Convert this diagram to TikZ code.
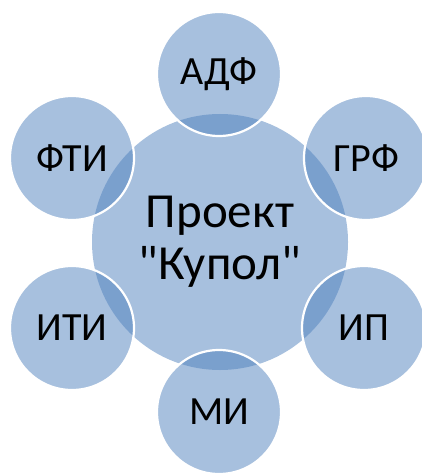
\documentclass[tikz,border=0pt]{standalone}
\usepackage{fontspec}
\newfontfamily\carl{Carlito}
\definecolor{accent}{HTML}{4F81BD}
\tikzset{
  hub/.style={circle, fill=accent, fill opacity=0.5, text opacity=1, minimum size=256pt, inner sep=0pt, align=center, font=\carl\fontsize{49}{52}\selectfont},
  sat/.style={circle, fill=accent, fill opacity=0.5, text opacity=1, draw=white, draw opacity=1, line width=2.2pt, minimum size=124pt, inner sep=0pt, font=\carl\fontsize{40}{44}\selectfont}
}
\begin{document}
\begin{tikzpicture}[x=1pt,y=-1pt]
\useasboundingbox (0,0) rectangle (422,473);
\node[hub] (c) at (220,242) {Проект\\"Купол"};
\node[sat] (t) at (219,74) {АДФ};
\node[sat] (ur) at (366,158) {ГРФ};
\node[sat] (lr) at (364,328) {ИП};
\node[sat] (b) at (219,412) {МИ};
\node[sat] (ll) at (72,328) {ИТИ};
\node[sat] (ul) at (72,158) {ФТИ};
\end{tikzpicture}
\end{document}
